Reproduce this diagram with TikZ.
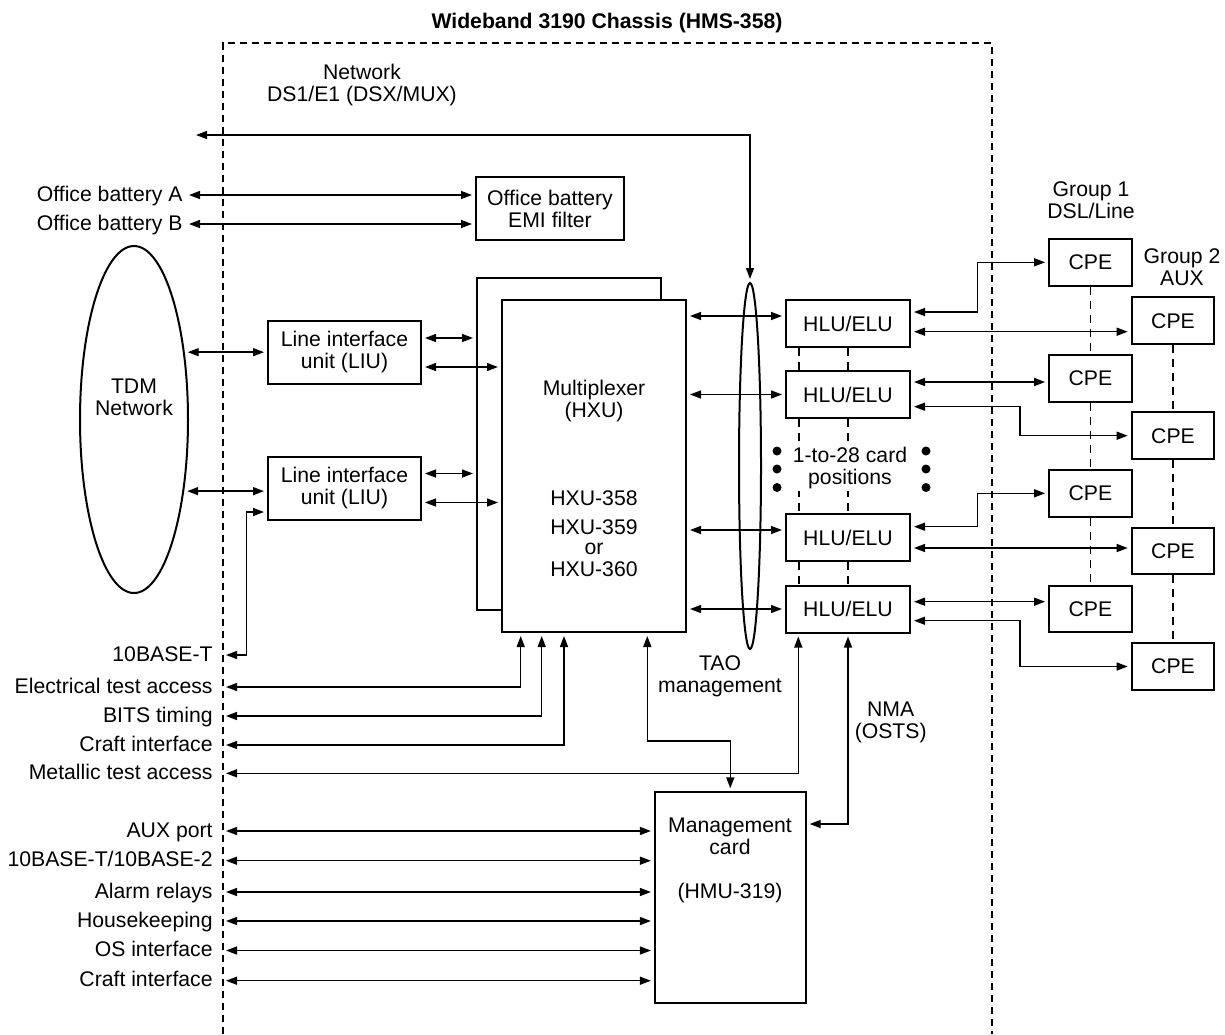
\documentclass[tikz,border=0pt]{standalone}
\usepackage{fontspec}
\setmainfont{Liberation Sans}
\usetikzlibrary{arrows.meta,shapes.geometric}

\begin{document}
\begin{tikzpicture}[
  x=0.5pt, y=-0.5pt,
  every node/.style={font=\fontsize{10.6}{11}\selectfont},
  box/.style    ={draw, line width=1pt, fill=white, align=center, inner sep=1pt},
  card/.style   ={box, minimum width=92pt, minimum height=166pt},
  liu/.style    ={box, minimum width=76.5pt, minimum height=31.5pt},
  hlu/.style    ={box, minimum width=62pt, minimum height=23.5pt},
  cpe/.style    ={box, minimum width=41.3pt, minimum height=23.3pt},
  oval/.style   ={draw, line width=1pt, ellipse, inner sep=0pt},
  port/.style   ={anchor=east, inner xsep=5pt, inner ysep=0pt,
                  text height=7.5pt, text depth=1.5pt},
  lbl/.style    ={align=center, inner sep=1pt},
  arr/.style    ={<->, line width=0.7pt, shorten <=1.5pt, shorten >=1.5pt},
  chassis/.style={dash pattern=on 3.7pt off 2.3pt, line width=0.6pt},
  slot/.style   ={dash pattern=on 4pt off 3pt, line width=0.6pt},
  >={Triangle[length=5.5pt,width=4pt]}
]
\useasboundingbox (0,0) rectangle (1225,1034);

%% ---- Chassis outline ----------------------------------------------
\draw[chassis] (223,1034) -- (223,43) -- (992,43) -- (992,1034);
\node[font=\fontsize{10.6}{11}\selectfont\bfseries] (title) at (607,23)
      {Wideband 3190 Chassis (HMS-358)};

%% ---- TDM side -----------------------------------------------------
\node[oval, minimum width=54pt, minimum height=173.5pt] (tdm) at (134,419.5) {};
\node[lbl] (tdmlbl) at (134,397) {TDM\\Network};
\node[liu] (liu1) at (344.5,352.5) {Line interface\\unit (LIU)};
\node[liu] (liu2) at (344.5,488)   {Line interface\\unit (LIU)};

%% ---- Battery filter -----------------------------------------------
\node[box, minimum width=74pt, minimum height=31.5pt] (emi) at (550,208.5)
      {Office battery\\EMI filter};
\node[port, inner xsep=1.5pt] (batA) at (186,195) {Office battery A};
\node[port, inner xsep=1.5pt] (batB) at (186,224) {Office battery B};

%% ---- Multiplexer cards --------------------------------------------
\node[card] (hxuback) at (569,444.3) {};
\node[card] (hxu)     at (594,466)   {};
\node[lbl] (hxuname)  at (594,401)   {Multiplexer\\(HXU)};
\node[lbl] (hxutypes) at (594,533.5)
      {HXU-358\\[3.5pt]HXU-359\\[-1pt]or\\HXU-360};

%% ---- Bundle and line cards ----------------------------------------
\node[oval, minimum width=11pt, minimum height=183pt] (bundle) at (750,466) {};
\node[lbl] (netlbl) at (362,85) {Network\\DS1/E1 (DSX/MUX)};
\node[hlu] (hlu1) at (848,323.5) {HLU/ELU};
\node[hlu] (hlu2) at (848,394.5) {HLU/ELU};
\node[hlu] (hlu3) at (848,537.5) {HLU/ELU};
\node[hlu] (hlu4) at (848,609)   {HLU/ELU};

%% ---- CPE groups ---------------------------------------------------
\node[lbl] (grp1) at (1091,200)   {Group 1\\DSL/Line};
\node[lbl] (grp2) at (1182,267.5) {Group 2\\AUX};
\node[cpe] (cpeA1) at (1090.4,262.3) {CPE};
\node[cpe] (cpeA2) at (1090.4,378.3) {CPE};
\node[cpe] (cpeA3) at (1090.4,493.3) {CPE};
\node[cpe] (cpeA4) at (1090.4,609)   {CPE};
\node[cpe] (cpeB1) at (1173,320.7) {CPE};
\node[cpe] (cpeB2) at (1173,435.7) {CPE};
\node[cpe] (cpeB3) at (1173,551)   {CPE};
\node[cpe] (cpeB4) at (1173,666.5) {CPE};

%% ---- Management card ----------------------------------------------
\node[box, minimum width=75.4pt, minimum height=105.5pt] (mgmt) at (730.3,897.8) {};
\node[lbl] (mgmtname) at (730,860.5) {Management\\card\\[11pt](HMU-319)};
\node[lbl] (tao) at (720,676)   {TAO\\management};
\node[lbl] (nma) at (890.7,722.5) {NMA\\(OSTS)};

%% ---- Office ports -------------------------------------------------
\node[port] (tenbt)  at (223,655)   {10BASE-T};
\node[port] (eta)    at (223,687)   {Electrical test access};
\node[port] (bits)   at (223,716)   {BITS timing};
\node[port] (craftA) at (223,745)   {Craft interface};
\node[port] (mta)    at (223,773.3) {Metallic test access};
\node[port] (aux)    at (223,831)   {AUX port};
\node[port] (tenb2)  at (223,860.7) {10BASE-T/10BASE-2};
\node[port] (alarm)  at (223,892)   {Alarm relays};
\node[port] (hkeep)  at (223,921)   {Housekeeping};
\node[port] (osif)   at (223,950.5) {OS interface};
\node[port] (craftB) at (223,980.7) {Craft interface};

%% ---- Connections: network, battery, LIU ---------------------------
\coordinate (netend) at (193,135);
\draw[arr] (netend) -| (bundle.north);
\draw[arr] (batA.east) -- (batA.east -| emi.west);
\draw[arr] (batB.east) -- (batB.east -| emi.west);
\draw[arr] (tdm.53)  -- (tdm.53 -| liu1.west);
\draw[arr] (tdm.-55) -- (tdm.-55 -| liu2.west);
\draw[arr] ([yshift=7.25pt]liu1.east)  -- ([yshift=7.25pt]liu1.east -| hxuback.west);
\draw[arr] ([yshift=-7.25pt]liu1.east) -- ([yshift=-7.25pt]liu1.east -| hxu.west);
\draw[arr] ([yshift=7.25pt]liu2.east)  -- ([yshift=7.25pt]liu2.east -| hxuback.west);
\draw[arr] ([yshift=-7.25pt]liu2.east) -- ([yshift=-7.25pt]liu2.east -| hxu.west);

%% ---- Connections: multiplexer to line cards -----------------------
\draw[arr] ([yshift=3.75pt]hlu1.west) -- ([yshift=3.75pt]hlu1.west -| hxu.east);
\draw[arr] (hlu2.west) -- (hlu2.west -| hxu.east);
\draw[arr] ([yshift=3.75pt]hlu3.west) -- ([yshift=3.75pt]hlu3.west -| hxu.east);
\draw[arr] (hlu4.west) -- (hlu4.west -| hxu.east);

% card slots between line cards
\draw[slot] ([xshift=-24.5pt]hlu1.south) -- ([xshift=-24.5pt]hlu2.north);
\draw[slot] ([xshift=-24.5pt]hlu2.south) -- ([xshift=-24.5pt]hlu3.north);
\draw[slot] ([xshift=-24.5pt]hlu3.south) -- ([xshift=-24.5pt]hlu4.north);
\draw[slot] (hlu1.south) -- (hlu2.north);
\draw[slot] (hlu2.south) -- (hlu3.north);
\draw[slot] (hlu3.south) -- (hlu4.north);
\node[lbl, fill=white] (slots) at (850,468) {1-to-28 card\\positions};
\fill (777,451) circle (2.25pt) (777,469) circle (2.25pt) (777,487.5) circle (2.25pt);
\fill (926,451) circle (2.25pt) (926,469) circle (2.25pt) (926,487.5) circle (2.25pt);

%% ---- Connections: line cards to CPE -------------------------------
\draw[arr] ([yshift=5.75pt]hlu1.east) -- ++(66.7,0) |- (cpeA1.west);
\draw[arr] ([yshift=-4.1pt]hlu1.east) -- ([yshift=-4.1pt]hlu1.east -| cpeB1.west);
\draw[arr] ([yshift=6.25pt]hlu2.east) -- ([yshift=6.25pt]hlu2.east -| cpeA2.west);
\draw[arr] ([yshift=-6.1pt]hlu2.east) -- ++(109,0) |- (cpeB2.west);
\draw[arr] ([yshift=5.4pt]hlu3.east) -- ++(66.7,0) |- (cpeA3.west);
\draw[arr] ([yshift=-5.25pt]hlu3.east) -- ([yshift=-5.25pt]hlu3.east -| cpeB3.west);
\draw[arr] ([yshift=3.65pt]hlu4.east) -- ([yshift=3.65pt]hlu4.east -| cpeA4.west);
\draw[arr] ([yshift=-5.85pt]hlu4.east) -- ++(109,0) |- (cpeB4.west);

% loop lines through each group
\draw[slot] (cpeA1.south) -- (cpeA2.north);
\draw[slot] (cpeA2.south) -- (cpeA3.north);
\draw[slot] (cpeA3.south) -- (cpeA4.north);
\draw[slot] (cpeB1.south) -- (cpeB2.north);
\draw[slot] (cpeB2.south) -- (cpeB3.north);
\draw[slot] (cpeB3.south) -- (cpeB4.north);

%% ---- Connections: office ports ------------------------------------
\draw[arr] (tenbt.east) -- ++(23.7,0) |- ([yshift=-12pt]liu2.west);
\draw[arr] (eta.east)    -| ([xshift=-36.65pt]hxu.south);
\draw[arr] (bits.east)   -| ([xshift=-26.15pt]hxu.south);
\draw[arr] (craftA.east) -| ([xshift=-15pt]hxu.south);
\draw[arr] (mta.east)    -| ([xshift=-24.85pt]hlu4.south);

%% ---- Connections: management --------------------------------------
\draw[arr] ([xshift=26.65pt]hxu.south) -- ++(0,108) -| (mgmt.north);
\draw[arr] ([yshift=36.9pt]mgmt.east) -| (hlu4.south);
\draw[arr] (aux.east)    -- (aux.east -| mgmt.west);
\draw[arr] (tenb2.east)  -- (tenb2.east -| mgmt.west);
\draw[arr] (alarm.east)  -- (alarm.east -| mgmt.west);
\draw[arr] (hkeep.east)  -- (hkeep.east -| mgmt.west);
\draw[arr] (osif.east)   -- (osif.east -| mgmt.west);
\draw[arr] (craftB.east) -- (craftB.east -| mgmt.west);

\end{tikzpicture}
\end{document}
